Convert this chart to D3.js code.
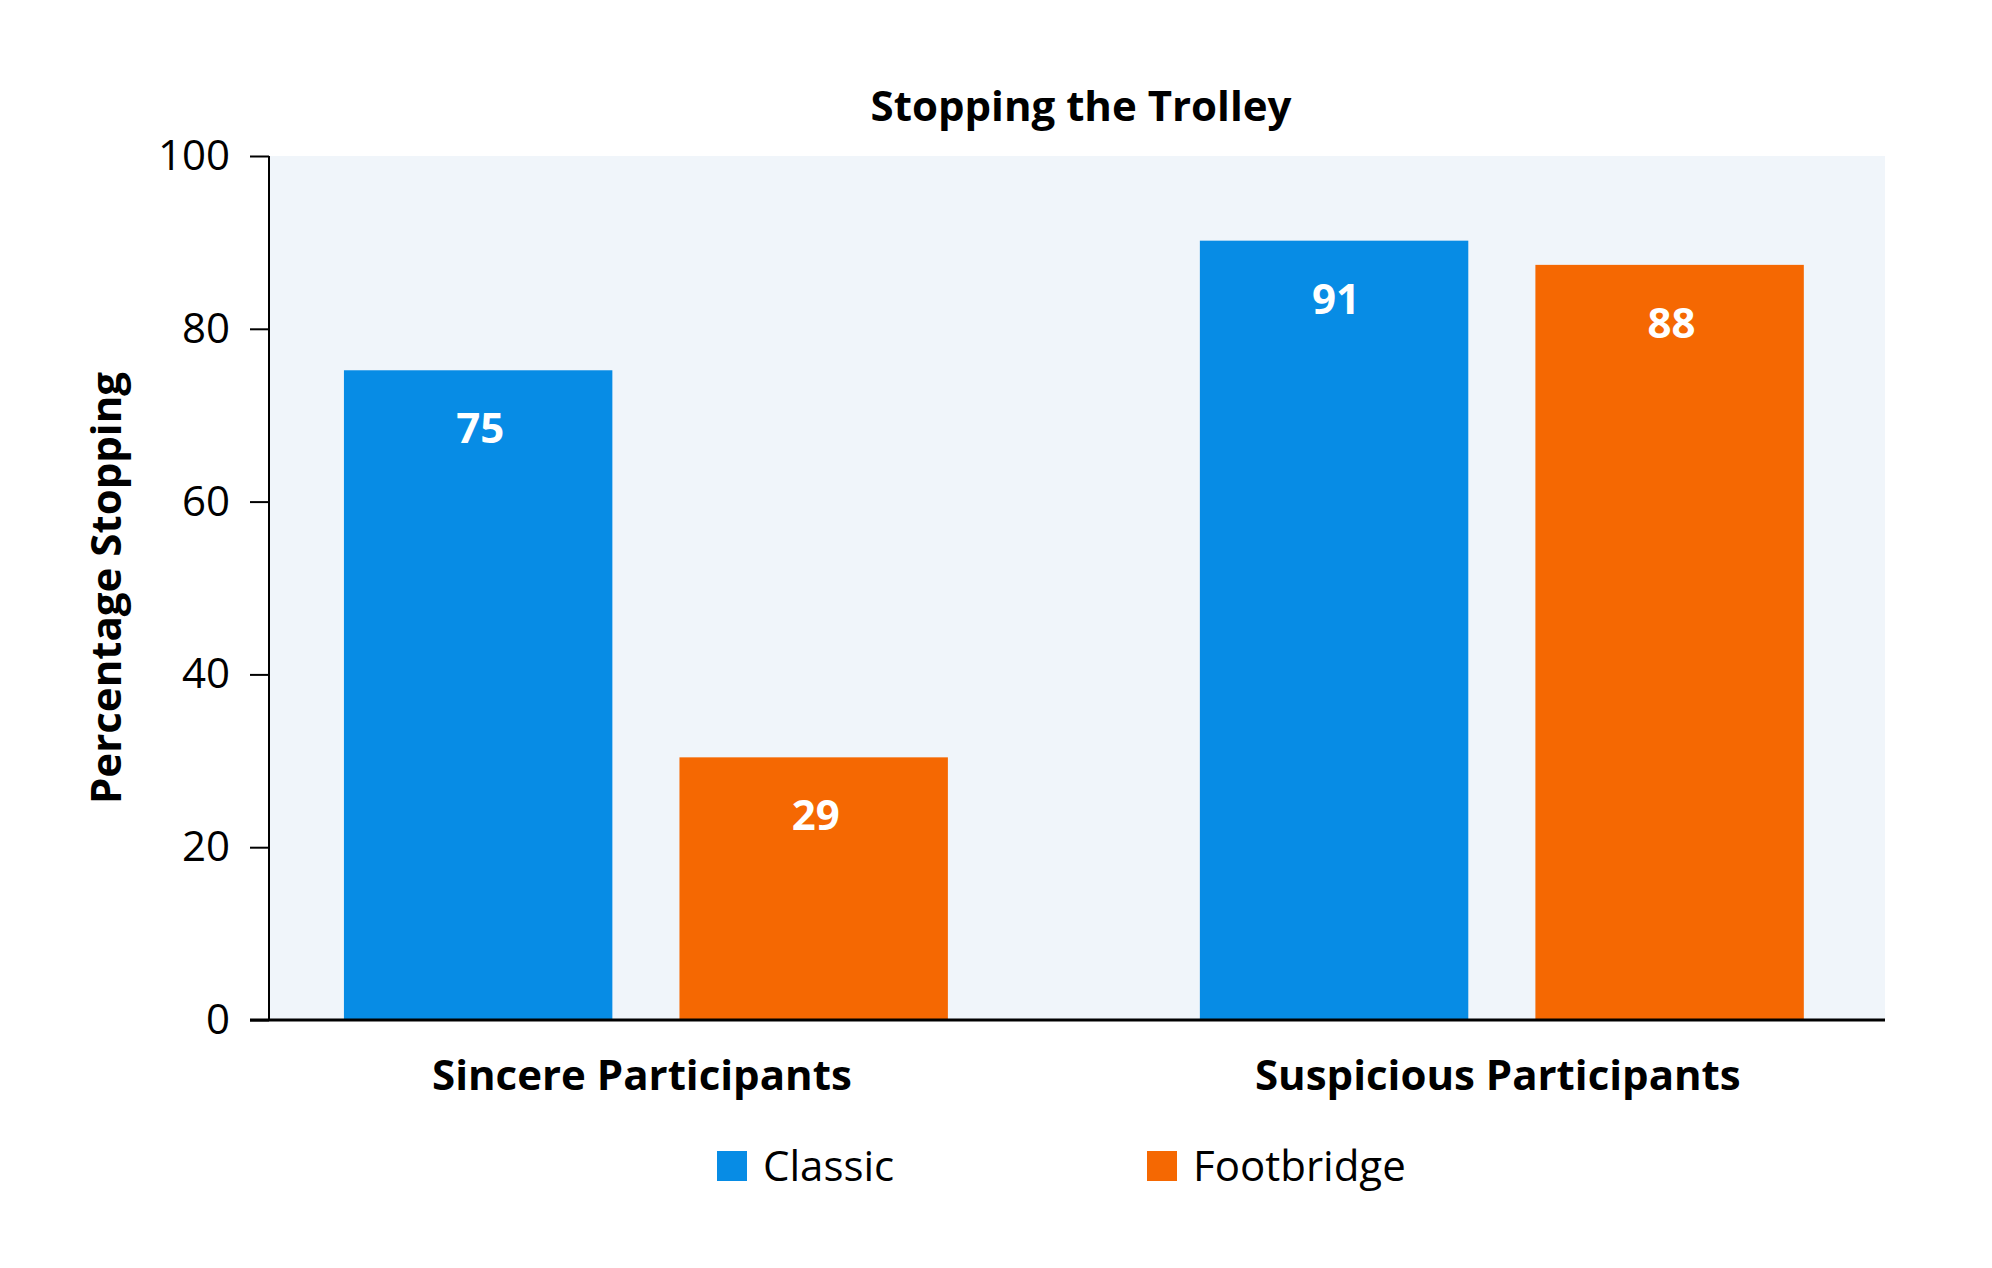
<!DOCTYPE html>
<html>
<head>
<meta charset="utf-8">
<script src="https://cdn.jsdelivr.net/npm/d3@7"></script>
<style>
  body { margin: 0; background: #fff; }
  text { font-family: "Open Sans", "Noto Sans", sans-serif; fill: #000; }
</style>
</head>
<body>
<svg id="chart" width="1992" height="1268"></svg>
<script>
// data
var groups = ["Sincere Participants", "Suspicious Participants"];
var series = ["Classic", "Footbridge"];
var colours = ["#078ce5", "#f56802"];
var classicValues = [75.2, 90.2];
var footbridgeValues = [30.4, 87.4];
var classicLabels = ["75", "91"];
var footbridgeLabels = ["29", "88"];
var yTicks = [0, 20, 40, 60, 80, 100];

var margin = {left: 269, right: 107, top: 156, bottom: 248};
var width = 1992 - margin.left - margin.right;
var height = 1268 - margin.top - margin.bottom;

var svg = d3.select("#chart");

var rows = [];
groups.forEach(function(g, i) {
	rows.push({group: g, series: series[0], value: classicValues[i], label: classicLabels[i]});
	rows.push({group: g, series: series[1], value: footbridgeValues[i], label: footbridgeLabels[i]});
});

var x0 = d3.scaleBand()
	.domain(groups)
	.range([0, width])
	.paddingInner(0.2944)
	.paddingOuter(0.0912)
	.align(0.48);

var x1 = d3.scaleBand()
	.domain(series)
	.range([0, x0.bandwidth()])
	.paddingInner(0.2);

var y = d3.scaleLinear()
	.domain([0, 100])
	.range([height, 0]);

var colour = d3.scaleOrdinal().domain(series).range(colours);

var g = svg.append("g")
	.attr("transform", "translate(" + margin.left + "," + margin.top + ")");

// plot background
g.append("rect")
	.attr("width", width)
	.attr("height", height)
	.attr("fill", "#f0f5fa");

// bars
var bar = g.append("g").selectAll(".bar")
	.data(rows)
	.enter().append("g")
	.attr("class", "bar")
	.attr("transform", function(d) { return "translate(" + (x0(d.group) + x1(d.series)) + ",0)"; });

bar.append("rect")
	.attr("y", function(d) { return y(d.value); })
	.attr("width", x1.bandwidth())
	.attr("height", function(d) { return height - y(d.value); })
	.attr("fill", function(d) { return colour(d.series); });

bar.append("text")
	.attr("x", x1.bandwidth() / 2 + 2)
	.attr("y", function(d) { return y(d.value) + 73; })
	.attr("text-anchor", "middle")
	.style("font-size", "42px")
	.style("font-weight", "bold")
	.style("fill", "#fff")
	.text(function(d) { return d.label; });

// y axis
var yAxis = g.append("g")
	.call(d3.axisLeft(y).tickValues(yTicks).tickSize(19).tickPadding(20).tickFormat(d3.format("d")));
yAxis.select(".domain").attr("stroke", "#000").attr("stroke-width", 2)
	.attr("d", "M0," + height + "V0");
yAxis.selectAll(".tick line").attr("stroke", "#000").attr("stroke-width", 2);
yAxis.selectAll(".tick text")
	.style("font-size", "42px")
	.style("font-family", "'Open Sans', sans-serif")
	.attr("fill", "#000");

// x axis baseline
var xAxis = g.append("g")
	.attr("transform", "translate(0," + height + ")")
	.call(d3.axisBottom(x0).tickSize(0).tickPadding(40));
xAxis.select(".domain").attr("stroke", "#000").attr("stroke-width", 3)
	.attr("d", "M-19,0H" + width);
xAxis.selectAll(".tick text")
	.style("font-size", "42px")
	.style("font-weight", "bold")
	.style("font-family", "'Open Sans', sans-serif")
	.attr("fill", "#000")
	.attr("dy", "0.71em")
	.attr("dx", -4);

// y axis title
svg.append("text")
	.attr("transform", "translate(121," + (margin.top + height / 2) + ") rotate(-90)")
	.attr("text-anchor", "middle")
	.style("font-size", "42px")
	.style("font-weight", "bold")
	.text("Percentage Stopping");

// chart title
svg.append("text")
	.attr("x", margin.left + width / 2 + 4)
	.attr("y", 121)
	.attr("text-anchor", "middle")
	.style("font-size", "42px")
	.style("font-weight", "bold")
	.text("Stopping the Trolley");

// legend
var legendX = [717, 1147];
var legend = svg.append("g").selectAll(".legend")
	.data(series)
	.enter().append("g")
	.attr("class", "legend")
	.attr("transform", function(d, i) { return "translate(" + legendX[i] + ",1151)"; });

legend.append("rect")
	.attr("width", 30)
	.attr("height", 30)
	.attr("fill", function(d) { return colour(d); });

legend.append("text")
	.attr("x", 46)
	.attr("y", 30)
	.style("font-size", "42px")
	.text(function(d) { return d; });
</script>
</body>
</html>
